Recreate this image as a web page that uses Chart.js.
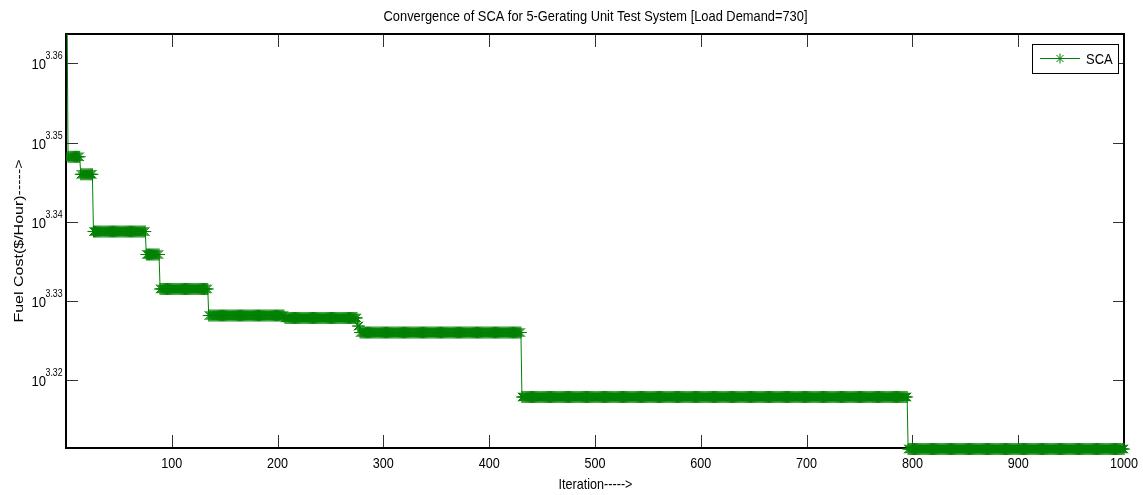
<!DOCTYPE html>
<html>
<head>
<meta charset="utf-8">
<script src="https://cdn.jsdelivr.net/npm/chart.js@4"></script>
<style>
  body { margin: 0; background: #fff; }
  #wrap { width: 1143px; height: 495px; }
</style>
</head>
<body>
<div id="wrap"><canvas id="grafico" width="1143" height="495"></canvas></div>
<script>
// iteration where each cost level starts, and the cost held from there on
const inicioDegrau = [1, 2, 14, 26, 76, 89, 135, 207, 276, 278, 431, 796];
const custoDegrau = [2330, 2229.5, 2218.2, 2181.6, 2167.1, 2145.5, 2129.0, 2127.5, 2122.5, 2118.5, 2079.2, 2048.0];
const totalIteracoes = 1000;
const ticksX = [100, 200, 300, 400, 500, 600, 700, 800, 900, 1000];
const expoentesY = ['3.32', '3.33', '3.34', '3.35', '3.36'];
const limiteY = [2048.6, 2310.5];

const verde = '#008000';
const fonte = '"Liberation Sans", Arial, sans-serif';
const aperto = 0.84;

// SCA best cost at each iteration (step curve)
const pontos = [];
let d = 0;
for (let i = 1; i <= totalIteracoes; i++) {
    while (d + 1 < inicioDegrau.length && inicioDegrau[d + 1] <= i) d++;
    pontos.push({ x: i, y: custoDegrau[d] });
}

function texto(ctx, str, x, y, tam, alinhar) {
    ctx.save();
    ctx.translate(x, y);
    ctx.scale(aperto, 1);
    ctx.font = tam + 'px ' + fonte;
    ctx.textAlign = alinhar;
    ctx.textBaseline = 'alphabetic';
    ctx.fillStyle = '#000';
    ctx.fillText(str, 0, 0);
    ctx.restore();
}

const eixosMatlab = {
    id: 'eixosMatlab',
    beforeDatasetsDraw(chart) {
        const ctx = chart.ctx;
        const a = chart.chartArea;
        const sx = chart.scales.x, sy = chart.scales.y;
        ctx.save();
        ctx.strokeStyle = '#333';
        ctx.lineWidth = 1;
        ticksX.forEach(t => {
            const px = Math.round(sx.getPixelForValue(t)) + 0.5;
            ctx.beginPath();
            ctx.moveTo(px, a.bottom); ctx.lineTo(px, a.bottom - 13);
            ctx.moveTo(px, a.top); ctx.lineTo(px, a.top + 13);
            ctx.stroke();
        });
        expoentesY.forEach(e => {
            const py = Math.round(sy.getPixelForValue(Math.pow(10, parseFloat(e)))) + 0.5;
            ctx.beginPath();
            ctx.moveTo(a.left, py); ctx.lineTo(a.left + 11, py);
            ctx.moveTo(a.right, py); ctx.lineTo(a.right - 11, py);
            ctx.stroke();
        });
        ctx.strokeStyle = '#000';
        ctx.lineWidth = 2;
        ctx.strokeRect(a.left - 1, a.top, a.right - a.left + 1, a.bottom - a.top);
        ctx.restore();
    },
    afterDraw(chart) {
        const ctx = chart.ctx;
        const a = chart.chartArea;
        const sx = chart.scales.x, sy = chart.scales.y;
        const meio = (a.left + a.right) / 2;

        texto(ctx, 'Convergence of SCA for 5-Gerating Unit Test System [Load Demand=730]', meio, 21, 15.3, 'center');

        ticksX.forEach(t => {
            texto(ctx, String(t), sx.getPixelForValue(t), a.bottom + 20, 15, 'center');
        });
        expoentesY.forEach(e => {
            const py = sy.getPixelForValue(Math.pow(10, parseFloat(e)));
            texto(ctx, '10', 31.5, py + 6, 15.5, 'left');
            texto(ctx, e, 45.5, py - 4, 10.5, 'left');
        });

        texto(ctx, 'Iteration----->', meio, 489, 15, 'center');

        ctx.save();
        ctx.translate(23, (a.top + a.bottom) / 2);
        ctx.rotate(-Math.PI / 2);
        ctx.scale(1, aperto);
        ctx.font = '16px ' + fonte;
        ctx.textAlign = 'center';
        ctx.fillStyle = '#000';
        ctx.fillText('Fuel Cost($/Hour)----->', 0, 0);
        ctx.restore();

        // legend
        ctx.save();
        ctx.fillStyle = '#fff';
        ctx.fillRect(1032.5, 44.5, 86, 29);
        ctx.strokeStyle = '#000';
        ctx.lineWidth = 1;
        ctx.strokeRect(1032.5, 44.5, 86, 29);
        ctx.strokeStyle = verde;
        ctx.beginPath();
        ctx.moveTo(1040, 58.5); ctx.lineTo(1080, 58.5);
        ctx.stroke();
        ctx.fillStyle = verde;
        Chart.helpers.drawPoint(ctx, { pointStyle: 'star', radius: 5, borderWidth: 1, rotation: 0 }, 1060, 58.5);
        ctx.restore();
        texto(ctx, 'SCA', 1086, 64, 15.5, 'left');
    }
};

new Chart(document.getElementById('grafico'), {
    type: 'line',
    data: {
        datasets: [{
            label: 'SCA',
            data: pontos,
            borderColor: verde,
            backgroundColor: verde,
            borderWidth: 1,
            pointStyle: 'star',
            pointRadius: 6,
            pointBorderWidth: 1,
            pointBorderColor: verde,
            pointBackgroundColor: verde,
            tension: 0,
            clip: { left: 1, top: 0, right: 20, bottom: 20 }
        }]
    },
    options: {
        responsive: false,
        animation: false,
        events: [],
        layout: { padding: { left: 67, top: 34, right: 19, bottom: 47 } },
        plugins: { legend: { display: false }, tooltip: { enabled: false }, title: { display: false } },
        scales: {
            x: { type: 'linear', display: false, min: 1, max: totalIteracoes },
            y: { type: 'logarithmic', display: false, min: limiteY[0], max: limiteY[1] }
        }
    },
    plugins: [eixosMatlab]
});
</script>
</body>
</html>
